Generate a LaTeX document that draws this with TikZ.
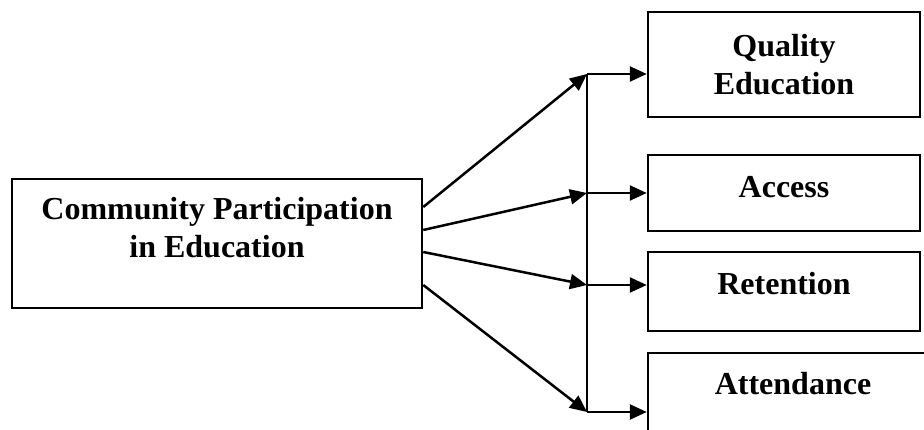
\documentclass[tikz,border=0pt]{standalone}
\usepackage{fontspec}
\setmainfont{Liberation Serif}
\usetikzlibrary{positioning,arrows.meta}

\begin{document}
\begin{tikzpicture}[x=1pt, y=-1pt, line width=2.5pt,
  box/.style={draw, rectangle, minimum width=272pt, align=center,
    font=\bfseries\fontsize{32}{38}\selectfont},
  arr/.style={-{Triangle[length=17pt,width=15pt]}}]
  \useasboundingbox (0,0) rectangle (924,430);
  \node[box, minimum width=410pt, minimum height=129pt, text depth=32pt] (cpe) at (217,243.5) {Community Participation\\in Education};
  \node[box, minimum height=105pt] (quality) at (784,64.5) {Quality\\Education};
  \node[box, minimum height=76pt, text depth=12pt] (access) at (784,193) {Access};
  \node[box, minimum height=79pt, text depth=16pt] (retention) at (784,291.5) {Retention};
  \node[box, minimum width=290pt, minimum height=86pt, text depth=26pt] (attendance) at (793,396) {Attendance};
  \coordinate (jq) at (587,74);
  \coordinate (ja) at (587,193);
  \coordinate (jr) at (587,285);
  \coordinate (jt) at (587,412);
  \draw (jq) -- (jt);  % vertical bar
  \draw[arr] ([yshift=36.5pt]cpe.east) -- (jq);
  \draw[arr] ([yshift=13.5pt]cpe.east) -- (ja);
  \draw[arr] ([yshift=-8.5pt]cpe.east) -- (jr);
  \draw[arr] ([yshift=-41.5pt]cpe.east) -- (jt);
  \draw[arr] (jq) -- (jq -| quality.west);
  \draw[arr] (ja) -- (ja -| access.west);
  \draw[arr] (jr) -- (jr -| retention.west);
  \draw[arr] (jt) -- (jt -| attendance.west);
\end{tikzpicture}
\end{document}
